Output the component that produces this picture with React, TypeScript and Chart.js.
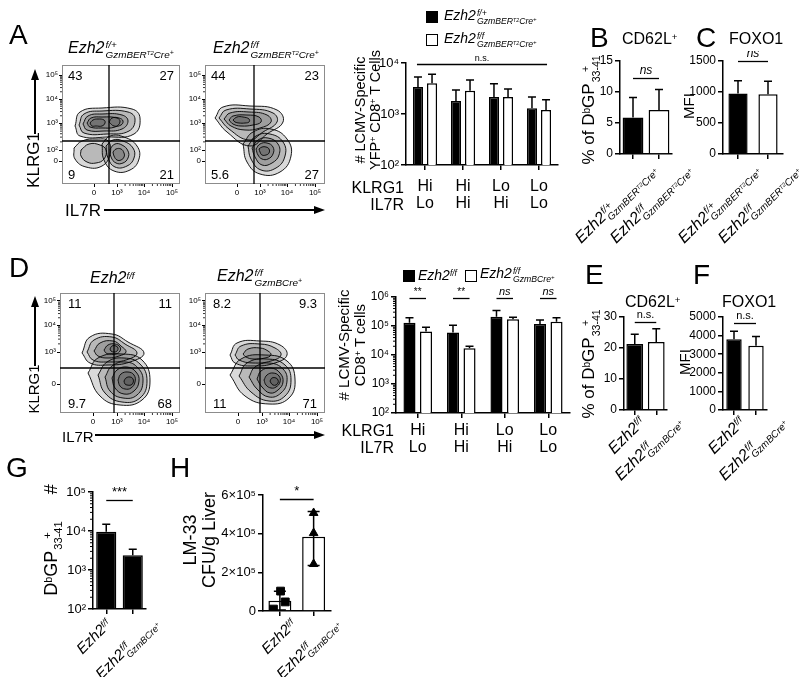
import React, { useEffect, useRef } from 'react';
import { Chart, registerables } from 'chart.js';
Chart.register(...registerables);

const FONT = '"Liberation Sans", Arial, Helvetica, sans-serif';

// ---------------- Flow plots (A, D): channel positions of axis ticks ----------------
const A_FLOW_X_TICKS = [32, 55, 82, 110];
const A_FLOW_Y_TICKS = [23, 34, 61, 85, 109];
const D_FLOW_X_TICKS = [33, 57, 84, 112];
const D_FLOW_Y_TICKS = [29, 61, 88, 112];
const FLOW_X_LABELS = ['0', '10³', '10⁴', '10⁵'];
const A_FLOW_Y_LABELS = ['0', '10²', '10³', '10⁴', '10⁵'];
const D_FLOW_Y_LABELS = ['0', '10³', '10⁴', '10⁵'];

// quadrant gates [IL7R, KLRG1] in channel units
const A1_GATE = [47, 43];
const A2_GATE = [49, 43];
const D1_GATE = [54, 45];
const D2_GATE = [55, 45];

// quadrant percentages: top-left, top-right, bottom-left, bottom-right
const A1_QUADS = ['43', '27', '9', '21'];
const A2_QUADS = ['44', '23', '5.6', '27'];
const D1_QUADS = ['11', '11', '9.7', '68'];
const D2_QUADS = ['8.2', '9.3', '11', '71'];

// contour levels (channel coordinates)
const A1_CONTOURS = [
  [[13, 58], [18, 72], [40, 76], [70, 75], [78, 66], [72, 50], [45, 47], [18, 48]],
  [[17, 59], [22, 70], [40, 73], [66, 72], [73, 65], [67, 53], [45, 50], [22, 51]],
  [[21, 60], [26, 68], [40, 70], [60, 69], [66, 63], [60, 55], [42, 53], [25, 54]],
  [[25, 61], [29, 66], [40, 67], [55, 66], [58, 62], [53, 57], [40, 56], [28, 57]],
  [[28, 61], [31, 64], [36, 65], [42, 64], [43, 61], [40, 58], [34, 58], [30, 58]],
  [[47, 62], [50, 66], [57, 66], [61, 63], [59, 59], [52, 58]],
  [[40, 40], [48, 48], [62, 47], [75, 38], [77, 25], [68, 14], [52, 13], [42, 24]],
  [[44, 38], [51, 44], [61, 43], [71, 36], [72, 26], [65, 18], [53, 17], [46, 26]],
  [[48, 35], [53, 40], [60, 39], [66, 33], [66, 26], [61, 21], [54, 21], [49, 27]],
  [[51, 32], [54, 35], [59, 35], [62, 31], [62, 27], [59, 24], [55, 24], [52, 28]],
  [[12, 36], [20, 43], [35, 45], [46, 43], [48, 30], [40, 18], [24, 17], [13, 25]],
  [[19, 34], [27, 40], [38, 39], [44, 34], [42, 25], [34, 21], [25, 22], [19, 28]],
];
const A2_CONTOURS = [
  [[10, 66], [18, 77], [45, 78], [72, 74], [78, 62], [62, 50], [45, 38], [22, 52]],
  [[14, 66], [21, 74], [45, 75], [68, 71], [72, 62], [58, 52], [44, 44], [24, 55]],
  [[19, 65], [25, 71], [44, 72], [62, 69], [66, 62], [55, 56], [40, 54], [26, 58]],
  [[24, 64], [28, 68], [42, 69], [54, 67], [56, 62], [48, 59], [36, 58], [28, 60]],
  [[28, 64], [32, 67], [38, 67], [44, 65], [44, 62], [40, 61], [34, 61], [30, 62]],
  [[38, 40], [48, 52], [66, 55], [82, 45], [86, 28], [75, 12], [55, 10], [42, 22]],
  [[43, 38], [51, 48], [65, 50], [78, 42], [80, 28], [71, 16], [56, 14], [46, 25]],
  [[47, 36], [53, 44], [63, 46], [73, 40], [74, 29], [67, 21], [57, 19], [50, 27]],
  [[51, 35], [55, 40], [62, 41], [68, 37], [68, 30], [63, 25], [57, 25], [53, 29]],
  [[54, 35], [57, 37], [61, 37], [64, 35], [64, 31], [61, 29], [57, 29], [55, 32]],
];
const D1_CONTOURS = [
  [[22, 60], [30, 76], [52, 79], [68, 71], [84, 60], [70, 51], [48, 48], [30, 50]],
  [[27, 61], [34, 73], [52, 76], [65, 69], [77, 60], [66, 53], [48, 51], [33, 53]],
  [[34, 62], [40, 70], [53, 72], [61, 67], [66, 61], [59, 57], [48, 55], [38, 57]],
  [[44, 63], [48, 68], [55, 69], [60, 66], [60, 62], [56, 59], [50, 59], [46, 60]],
  [[50, 64], [52, 67], [56, 67], [58, 65], [57, 62], [54, 61], [51, 62]],
  [[28, 40], [38, 55], [62, 59], [82, 53], [90, 32], [82, 13], [60, 8], [40, 17]],
  [[38, 38], [47, 51], [64, 55], [80, 49], [87, 32], [80, 15], [62, 11], [45, 20]],
  [[45, 36], [52, 47], [66, 51], [78, 45], [83, 32], [77, 18], [63, 15], [50, 22]],
  [[52, 35], [57, 43], [67, 46], [76, 41], [79, 32], [74, 22], [64, 19], [55, 25]],
  [[58, 33], [61, 39], [68, 41], [74, 38], [75, 31], [71, 25], [65, 24], [60, 27]],
  [[64, 32], [66, 35], [70, 36], [73, 34], [73, 30], [71, 28], [67, 28], [65, 29]],
];
const D2_CONTOURS = [
  [[25, 58], [32, 70], [55, 72], [75, 68], [82, 58], [70, 50], [48, 47], [30, 50]],
  [[30, 58], [36, 67], [55, 69], [70, 65], [76, 58], [66, 52], [48, 50], [34, 53]],
  [[38, 59], [43, 64], [55, 65], [63, 62], [66, 58], [60, 55], [48, 54], [41, 56]],
  [[25, 38], [36, 54], [60, 58], [82, 52], [90, 34], [84, 15], [64, 9], [40, 17]],
  [[34, 37], [42, 50], [62, 54], [80, 48], [86, 33], [80, 17], [64, 12], [46, 21]],
  [[44, 36], [50, 46], [64, 50], [78, 44], [82, 32], [76, 20], [64, 16], [52, 24]],
  [[52, 34], [56, 42], [66, 45], [75, 40], [78, 31], [73, 23], [65, 20], [57, 26]],
  [[59, 33], [62, 38], [68, 40], [74, 37], [75, 31], [71, 26], [66, 25], [61, 28]],
  [[65, 32], [67, 35], [71, 35], [73, 33], [73, 30], [71, 28], [68, 28], [66, 30]],
];

// ---------------- Bar panels ----------------
const KLRG1_CATS = ['Hi', 'Hi', 'Lo', 'Lo'];
const IL7R_CATS = ['Lo', 'Hi', 'Hi', 'Lo'];

const A_CTRL = [3400, 1800, 2150, 1300];
const A_CTRL_SD = [5300, 2950, 3900, 2150];
const A_KO = [4000, 2850, 2150, 1200];
const A_KO_SD = [6000, 4650, 3100, 1900];
const A_YTICKS = [100, 1000, 10000];
const A_YLABELS = ['10²', '10³', '10⁴'];

const D_CTRL = [130000, 60000, 210000, 117000];
const D_CTRL_SD = [194000, 107000, 340000, 160000];
const D_KO = [65000, 17000, 170000, 140000];
const D_KO_SD = [90000, 20000, 200000, 194000];
const D_YTICKS = [100, 1000, 10000, 100000, 1000000];
const D_YLABELS = ['10²', '10³', '10⁴', '10⁵', '10⁶'];
const D_SIG = ['**', '**', 'ns', 'ns'];

const TWO_GROUPS = ['control', 'knockout'];
const B_VALUES = [5.9, 7.1];
const B_SD = [9.1, 10.4];
const B_YTICKS = [0, 5, 10, 15];
const C_VALUES = [975, 965];
const C_SD = [1180, 1175];
const C_YTICKS = [0, 500, 1000, 1500];
const E_VALUES = [21.3, 21.9];
const E_SD = [24.4, 26.2];
const E_YTICKS = [0, 10, 20, 30];
const F_VALUES = [3800, 3450];
const F_SD = [4230, 3950];
const F_YTICKS = [0, 1000, 2000, 3000, 4000, 5000];
const G_VALUES = [9500, 2400];
const G_SD = [15000, 3400];
const G_YTICKS = [100, 1000, 10000, 100000];
const G_YLABELS = ['10²', '10³', '10⁴', '10⁵'];
const H_MEANS = [53000, 384000];
const H_SD_HI = [102000, 515000];
const H_SD_LO = [5000, 235000];
const H_CTRL_POINTS = [103000, 10000, 47000];
const H_CTRL_JITTER = [0.02, -0.19, 0.16];
const H_KO_POINTS = [507000, 403000, 243000];
const H_KO_JITTER = [0, 0, 0];
const H_YTICKS = [0, 200000, 400000, 600000];
const H_YLABELS = ['0', '2×10⁵', '4×10⁵', '6×10⁵'];

// ---------------- helpers ----------------
const zeroPad = (s: any) => { s.paddingLeft = 0; s.paddingRight = 0; s.paddingTop = 0; s.paddingBottom = 0; };
const fitW = (w: number) => (s: any) => { s.width = w; zeroPad(s); };
const fitH = (h: number) => (s: any) => { s.height = h; zeroPad(s); };

const decor = {
  id: 'decor',
  afterDatasetsDraw(chart: any, _a: any, opts: any) {
    const ctx = chart.ctx;
    const ca = chart.chartArea;
    ctx.save();
    ctx.strokeStyle = '#000';
    ctx.fillStyle = '#000';
    // error bars
    chart.data.datasets.forEach((ds: any, di: number) => {
      if (!ds.errUp) return;
      const meta = chart.getDatasetMeta(di);
      const ys = chart.scales[meta.yAxisID];
      ctx.lineWidth = 1.5;
      meta.data.forEach((el: any, i: number) => {
        const x = el.x;
        const lowV = ds.errDown ? ds.errDown[i] : ds.data[i];
        const y0 = Math.min(ys.getPixelForValue(lowV), ca.bottom);
        const y1 = ys.getPixelForValue(ds.errUp[i]);
        const c = ds.cap ?? 4;
        ctx.beginPath();
        ctx.moveTo(x, y0); ctx.lineTo(x, y1);
        ctx.moveTo(x - c, y1); ctx.lineTo(x + c, y1);
        if (ds.errDown) { ctx.moveTo(x - c, y0); ctx.lineTo(x + c, y0); }
        ctx.stroke();
      });
    });
    // minor log ticks
    if (opts.minorLog) {
      const ys = chart.scales.y;
      ctx.lineWidth = 1;
      ctx.beginPath();
      for (let k = Math.round(Math.log10(ys.min)); k < Math.round(Math.log10(ys.max)); k++) {
        for (let m = 2; m <= 9; m++) {
          const y = ys.getPixelForValue(m * Math.pow(10, k));
          ctx.moveTo(ca.left - 3, y); ctx.lineTo(ca.left, y);
        }
      }
      ctx.stroke();
    }
    // significance bars
    if (opts.sig) {
      const ys = chart.scales.y;
      opts.sig.forEach((s: any) => {
        const x1 = chart.getDatasetMeta(s.a[0]).data[s.a[1]].x - (s.ext || 0);
        const x2 = chart.getDatasetMeta(s.b[0]).data[s.b[1]].x + (s.ext || 0);
        const y = Math.round(ys.getPixelForValue(s.v)) + 0.5;
        ctx.lineWidth = 1.3;
        ctx.beginPath(); ctx.moveTo(x1, y); ctx.lineTo(x2, y); ctx.stroke();
        ctx.font = `${s.italic ? 'italic ' : ''}${s.size}px ${FONT}`;
        ctx.textAlign = 'center';
        ctx.textBaseline = 'bottom';
        ctx.fillText(s.text, (x1 + x2) / 2, y - (s.gap ?? 1));
      });
    }
    // flow box, gates, minor ticks
    if (opts.flow) {
      const f = opts.flow;
      const xs = chart.scales.x, ys = chart.scales.y;
      ctx.strokeStyle = '#8c8c8c';
      ctx.lineWidth = 1;
      ctx.strokeRect(ca.left + 0.5, ca.top + 0.5, ca.right - ca.left - 1, ca.bottom - ca.top - 1);
      ctx.strokeStyle = '#000';
      ctx.lineWidth = 1.3;
      const gx = xs.getPixelForValue(f.gate[0]);
      const gy = ys.getPixelForValue(f.gate[1]);
      ctx.beginPath();
      ctx.moveTo(gx, ca.top); ctx.lineTo(gx, ca.bottom);
      ctx.moveTo(ca.left, gy); ctx.lineTo(ca.right, gy);
      ctx.stroke();
      ctx.lineWidth = 0.8;
      ctx.beginPath();
      for (let i = 1; i + 1 < f.xt.length; i++) {
        const a = f.xt[i], b = f.xt[i + 1];
        for (let m = 2; m <= 9; m++) {
          const px = xs.getPixelForValue(a + (b - a) * Math.log10(m));
          ctx.moveTo(px, ca.bottom); ctx.lineTo(px, ca.bottom + 2);
        }
      }
      for (let i = 1; i + 1 < f.yt.length; i++) {
        const a = f.yt[i], b = f.yt[i + 1];
        for (let m = 2; m <= 9; m++) {
          const py = ys.getPixelForValue(a + (b - a) * Math.log10(m));
          ctx.moveTo(ca.left, py); ctx.lineTo(ca.left - 2, py);
        }
      }
      ctx.stroke();
    }
    ctx.restore();
  },
};

const baseOpts = (m: any, decorOpts: any) => ({
  animation: false,
  responsive: false,
  devicePixelRatio: 1,
  events: [],
  layout: { padding: { left: 0, top: m.t, right: m.r, bottom: 0 } },
  plugins: { legend: { display: false }, tooltip: { enabled: false }, decor: decorOpts },
});

function flowCfg(o: any) {
  const grid = { display: true, drawOnChartArea: false, drawTicks: true, tickLength: 3, color: '#000', lineWidth: 1 };
  return {
    type: 'scatter',
    data: {
      datasets: o.rings.map((r: number[][]) => ({
        data: [...r, r[0]].map(([x, y]) => ({ x, y })),
        showLine: true,
        tension: 0.45,
        borderColor: '#000',
        borderWidth: 0.9,
        pointRadius: 0,
        fill: 'shape',
        backgroundColor: 'rgba(0,0,0,0.15)',
      })),
    },
    plugins: [decor],
    options: {
      ...baseOpts(o.m, { flow: { gate: o.gate, xt: o.xt, yt: o.yt } }),
      scales: {
        x: {
          type: 'linear', min: 0, max: o.xmax,
          border: { display: false }, grid,
          afterBuildTicks: (s: any) => { s.ticks = o.xt.map((v: number) => ({ value: v })); },
          ticks: { autoSkip: false, maxRotation: 0, color: '#000', font: { family: FONT, size: 8 }, padding: 1, callback: (_v: any, i: number) => o.xl[i] },
          afterFit: fitH(o.m.b),
        },
        y: {
          type: 'linear', min: 0, max: o.ymax,
          border: { display: false }, grid,
          afterBuildTicks: (s: any) => { s.ticks = o.yt.map((v: number) => ({ value: v })); },
          ticks: { autoSkip: false, color: '#000', font: { family: FONT, size: 8 }, padding: 1, callback: (_v: any, i: number) => o.yl[i] },
          afterFit: fitW(o.m.l),
        },
      },
    },
  };
}

function barCfg(o: any) {
  const grid = { display: true, drawOnChartArea: false, drawTicks: true, tickLength: 5, color: '#000', lineWidth: 1.5 };
  return {
    type: 'bar',
    data: { labels: o.labels, datasets: o.datasets },
    plugins: [decor],
    options: {
      ...baseOpts(o.m, { sig: o.sig, minorLog: o.minorLog }),
      datasets: { bar: { categoryPercentage: o.catPct, barPercentage: o.barPct } },
      scales: {
        x: {
          type: 'category', offset: true,
          border: { display: true, color: '#000', width: 1.5 },
          grid: { ...grid, offset: false },
          ticks: { display: !!o.showX, color: '#000', font: { family: FONT, size: 16, lineHeight: 1.05 }, padding: o.xPad ?? 4, autoSkip: false, maxRotation: 0 },
          afterFit: fitH(o.m.b),
        },
        y: {
          type: o.yType, min: o.yMin, max: o.yMax,
          border: { display: true, color: '#000', width: 1.5 },
          grid,
          afterBuildTicks: (s: any) => { s.ticks = o.yTicks.map((v: number) => ({ value: v })); },
          ticks: { color: '#000', font: { family: FONT, size: o.yFont || 12 }, padding: 2, autoSkip: false, callback: (_v: any, i: number) => o.yLabels[i] },
          afterFit: fitW(o.m.l),
        },
        ...(o.extraScales || {}),
      },
    },
  };
}

function ChartBox({ g, m, make }: any) {
  const ref = useRef<HTMLCanvasElement>(null);
  useEffect(() => {
    const chart = new Chart(ref.current as HTMLCanvasElement, make() as any);
    return () => chart.destroy();
  }, []);
  const w = g[2] - g[0] + m.l + m.r;
  const h = g[3] - g[1] + m.t + m.b;
  return <canvas ref={ref} width={w} height={h} style={{ position: 'absolute', left: g[0] - m.l, top: g[1] - m.t, width: w, height: h }} />;
}

// ---------------- text helpers ----------------
function Sup({ children, s = 0.6, v = 0.45 }: any) {
  return <span style={{ fontSize: `${s}em`, verticalAlign: `${v}em`, lineHeight: 0 }}>{children}</span>;
}
function Stack({ sup, sub, size }: any) {
  return (
    <span style={{ display: 'inline-block', verticalAlign: `${-0.3 * size}px`, fontSize: 0.62 * size, lineHeight: 1, marginLeft: 1 }}>
      <span style={{ display: 'block' }}>{sup}</span>
      <span style={{ display: 'block' }}>{sub}</span>
    </span>
  );
}
const GzmBER = () => <>GzmBER<Sup s={0.6}>T2</Sup>Cre<Sup s={0.7}>+</Sup></>;
const GzmBCre = () => <>GzmBCre<Sup s={0.7}>+</Sup></>;
function Ezh2({ sup, sub, size }: any) {
  return (
    <span style={{ fontStyle: 'italic', fontSize: size, whiteSpace: 'nowrap' }}>
      Ezh2{sub ? <Stack sup={sup} sub={sub} size={size} /> : <Sup>{sup}</Sup>}
    </span>
  );
}
const T = ({ x, y, xr, size = 14, children, style }: any) => (
  <div style={{ position: 'absolute', ...(xr !== undefined ? { right: 800 - xr } : { left: x }), top: y, fontSize: size, lineHeight: 1, whiteSpace: 'nowrap', ...style }}>{children}</div>
);
const RC = ({ cx, cy, size = 15, children, lh = 1.05 }: any) => (
  <div style={{ position: 'absolute', left: cx, top: cy, transform: 'translate(-50%,-50%) rotate(-90deg)', fontSize: size, lineHeight: lh, whiteSpace: 'nowrap', textAlign: 'center' }}>{children}</div>
);
const XL = ({ x, y, children }: any) => (
  <div style={{ position: 'absolute', right: 800 - x, top: y, transformOrigin: '100% 0', transform: 'rotate(-45deg)', whiteSpace: 'nowrap', lineHeight: 1 }}>{children}</div>
);
const Quads = ({ box, q, inset = 6 }: any) => (
  <>
    <T x={box[0] + inset} y={box[1] + 4} size={13}>{q[0]}</T>
    <T xr={box[2] - inset} y={box[1] + 4} size={13}>{q[1]}</T>
    <T x={box[0] + inset} y={box[3] - 16} size={13}>{q[2]}</T>
    <T xr={box[2] - inset} y={box[3] - 16} size={13}>{q[3]}</T>
  </>
);
const DbGP = ({ size }: any) => <span>% of D<Sup>b</Sup>GP<Stack sup="+" sub="33-41" size={size} /></span>;

// ---------------- geometry ----------------
const G_A1 = [62, 65, 180, 184];
const G_A2 = [205, 65, 325, 184];
const G_D1 = [60, 293, 180, 413];
const G_D2 = [205, 293, 325, 413];
const FM = { l: 24, t: 6, r: 10, b: 16 };

export default function App() {
  const two = (vals: number[], sd: number[], colors: string[]) => [{
    data: vals, errUp: sd, backgroundColor: colors, borderColor: '#000', borderWidth: 1.5, cap: 4,
  }];
  const twoSig = (v: number, text: string, italic: boolean, size: number) => [{ a: [0, 0], b: [0, 1], v, text, italic, size, gap: 2 }];

  return (
    <div style={{ position: 'absolute', left: 0, top: 0, width: 800, height: 677, background: '#fff', overflow: 'hidden', fontFamily: FONT, color: '#000' }}>
      {/* flow plots */}
      <ChartBox g={G_A1} m={FM} make={() => flowCfg({ rings: A1_CONTOURS, gate: A1_GATE, xt: A_FLOW_X_TICKS, xl: FLOW_X_LABELS, yt: A_FLOW_Y_TICKS, yl: A_FLOW_Y_LABELS, xmax: 118, ymax: 119, m: FM })} />
      <ChartBox g={G_A2} m={FM} make={() => flowCfg({ rings: A2_CONTOURS, gate: A2_GATE, xt: A_FLOW_X_TICKS, xl: FLOW_X_LABELS, yt: A_FLOW_Y_TICKS, yl: A_FLOW_Y_LABELS, xmax: 120, ymax: 119, m: FM })} />
      <ChartBox g={G_D1} m={FM} make={() => flowCfg({ rings: D1_CONTOURS, gate: D1_GATE, xt: D_FLOW_X_TICKS, xl: FLOW_X_LABELS, yt: D_FLOW_Y_TICKS, yl: D_FLOW_Y_LABELS, xmax: 120, ymax: 120, m: FM })} />
      <ChartBox g={G_D2} m={FM} make={() => flowCfg({ rings: D2_CONTOURS, gate: D2_GATE, xt: D_FLOW_X_TICKS, xl: FLOW_X_LABELS, yt: D_FLOW_Y_TICKS, yl: D_FLOW_Y_LABELS, xmax: 120, ymax: 120, m: FM })} />

      {/* A bar chart */}
      <ChartBox g={[406, 63, 558, 165]} m={{ l: 40, t: 10, r: 6, b: 50 }} make={() => barCfg({
        labels: KLRG1_CATS.map((k, i) => [k, IL7R_CATS[i]]),
        datasets: [
          { data: A_CTRL, errUp: A_CTRL_SD, backgroundColor: '#000', borderColor: '#000', borderWidth: 1.5 },
          { data: A_KO, errUp: A_KO_SD, backgroundColor: '#fff', borderColor: '#000', borderWidth: 1.5 },
        ],
        yType: 'logarithmic', yMin: 100, yMax: 10000, yTicks: A_YTICKS, yLabels: A_YLABELS, yFont: 13,
        m: { l: 40, t: 10, r: 6, b: 50 }, catPct: 0.74, barPct: 0.72, showX: true, xPad: 8,
        sig: [{ a: [0, 0], b: [1, 3], v: 9500, text: 'n.s.', italic: false, size: 9, ext: 1, gap: 1 }],
      })} />

      {/* D bar chart */}
      <ChartBox g={[396, 297, 570, 413]} m={{ l: 40, t: 10, r: 6, b: 45 }} make={() => barCfg({
        labels: KLRG1_CATS.map((k, i) => [k, IL7R_CATS[i]]),
        datasets: [
          { data: D_CTRL, errUp: D_CTRL_SD, backgroundColor: '#000', borderColor: '#000', borderWidth: 1.5 },
          { data: D_KO, errUp: D_KO_SD, backgroundColor: '#fff', borderColor: '#000', borderWidth: 1.5 },
        ],
        yType: 'logarithmic', yMin: 100, yMax: 1000000, yTicks: D_YTICKS, yLabels: D_YLABELS, minorLog: true,
        m: { l: 40, t: 10, r: 6, b: 45 }, catPct: 0.76, barPct: 0.73, showX: true, xPad: 4,
        sig: D_SIG.map((s, i) => ({ a: [0, i], b: [1, i], v: 930000, text: s, italic: s === 'ns', size: s === 'ns' ? 11 : 10, ext: 0, gap: 1 })),
      })} />

      {/* B, C, E, F, G, H */}
      <ChartBox g={[620, 61, 672, 154]} m={{ l: 26, t: 10, r: 4, b: 10 }} make={() => barCfg({
        labels: TWO_GROUPS, datasets: two(B_VALUES, B_SD, ['#000', '#fff']),
        yType: 'linear', yMin: 0, yMax: 15, yTicks: B_YTICKS, yLabels: B_YTICKS.map(String),
        m: { l: 26, t: 10, r: 4, b: 10 }, catPct: 1, barPct: 0.8, sig: twoSig(12.3, 'ns', true, 12),
      })} />
      <ChartBox g={[723, 61, 783, 154]} m={{ l: 36, t: 10, r: 4, b: 10 }} make={() => barCfg({
        labels: TWO_GROUPS, datasets: two(C_VALUES, C_SD, ['#000', '#fff']),
        yType: 'linear', yMin: 0, yMax: 1500, yTicks: C_YTICKS, yLabels: C_YTICKS.map(String),
        m: { l: 36, t: 10, r: 4, b: 10 }, catPct: 1, barPct: 0.64, sig: twoSig(1500, 'ns', true, 12),
      })} />
      <ChartBox g={[624, 317, 667, 410]} m={{ l: 26, t: 10, r: 4, b: 10 }} make={() => barCfg({
        labels: TWO_GROUPS, datasets: two(E_VALUES, E_SD, ['#000', '#fff']),
        yType: 'linear', yMin: 0, yMax: 30, yTicks: E_YTICKS, yLabels: E_YTICKS.map(String),
        m: { l: 26, t: 10, r: 4, b: 10 }, catPct: 1, barPct: 0.78, sig: twoSig(28.4, 'n.s.', false, 11),
      })} />
      <ChartBox g={[723, 317, 767, 410]} m={{ l: 36, t: 10, r: 4, b: 10 }} make={() => barCfg({
        labels: TWO_GROUPS, datasets: two(F_VALUES, F_SD, ['#000', '#fff']),
        yType: 'linear', yMin: 0, yMax: 5000, yTicks: F_YTICKS, yLabels: F_YTICKS.map(String),
        m: { l: 36, t: 10, r: 4, b: 10 }, catPct: 1, barPct: 0.7, sig: twoSig(4680, 'n.s.', false, 11),
      })} />
      <ChartBox g={[93, 492, 146, 609]} m={{ l: 36, t: 12, r: 4, b: 10 }} make={() => barCfg({
        labels: TWO_GROUPS, datasets: two(G_VALUES, G_SD, ['#000', '#000']),
        yType: 'logarithmic', yMin: 100, yMax: 100000, yTicks: G_YTICKS, yLabels: G_YLABELS, yFont: 13, minorLog: true,
        m: { l: 36, t: 12, r: 4, b: 10 }, catPct: 1, barPct: 0.76, sig: twoSig(61000, '***', false, 13),
      })} />
      <ChartBox g={[263, 495, 333, 611]} m={{ l: 50, t: 12, r: 4, b: 10 }} make={() => barCfg({
        labels: TWO_GROUPS,
        datasets: [
          { type: 'bar', grouped: false, data: H_MEANS, errUp: H_SD_HI, errDown: H_SD_LO, backgroundColor: '#fff', borderColor: '#000', borderWidth: 1.5, cap: 6, order: 2 },
          { type: 'scatter', xAxisID: 'x2', order: 1, data: H_CTRL_POINTS.map((v, i) => ({ x: H_CTRL_JITTER[i], y: v })), pointStyle: 'rect', pointRadius: 5.5, backgroundColor: '#000', borderColor: '#000' },
          { type: 'scatter', xAxisID: 'x2', order: 1, data: H_KO_POINTS.map((v, i) => ({ x: 1 + H_KO_JITTER[i], y: v })), pointStyle: 'triangle', pointRadius: 5, backgroundColor: '#000', borderColor: '#000' },
        ],
        yType: 'linear', yMin: 0, yMax: 600000, yTicks: H_YTICKS, yLabels: H_YLABELS, yFont: 13,
        m: { l: 50, t: 12, r: 4, b: 10 }, catPct: 1, barPct: 0.68, sig: twoSig(580000, '*', false, 13),
        extraScales: { x2: { type: 'linear', min: -0.5, max: 1.5, display: false, bounds: 'data', offset: false } },
      })} />

      {/* arrows */}
      <svg width={800} height={677} style={{ position: 'absolute', left: 0, top: 0 }}>
        <g stroke="#000" strokeWidth={2} fill="#000">
          <line x1={35} y1={134} x2={35} y2={78} />
          <polygon points="35,69 31,80 39,80" stroke="none" />
          <line x1={104} y1={210} x2={315} y2={210} />
          <polygon points="325,210 314,206 314,214" stroke="none" />
          <line x1={35} y1={366} x2={35} y2={305} />
          <polygon points="35,296 31,307 39,307" stroke="none" />
          <line x1={95} y1={435} x2={315} y2={435} />
          <polygon points="325,435 314,431 314,439" stroke="none" />
        </g>
      </svg>

      {/* panel letters */}
      <T x={9} y={21} size={28}>A</T>
      <T x={590} y={24} size={28}>B</T>
      <T x={696} y={24} size={28}>C</T>
      <T x={9} y={254} size={28}>D</T>
      <T x={585} y={261} size={28}>E</T>
      <T x={693} y={261} size={28}>F</T>
      <T x={6} y={454} size={28}>G</T>
      <T x={170} y={454} size={28}>H</T>

      {/* flow titles */}
      <T x={68} y={40} size={16}><Ezh2 sup="f/+" sub={<GzmBER />} size={16} /></T>
      <T x={213} y={40} size={16}><Ezh2 sup="f/f" sub={<GzmBER />} size={16} /></T>
      <T x={90} y={270} size={16}><Ezh2 sup="f/f" size={16} /></T>
      <T x={217} y={268} size={16}><Ezh2 sup="f/f" sub={<GzmBCre />} size={16} /></T>

      {/* quadrant numbers */}
      <Quads box={G_A1} q={A1_QUADS} />
      <Quads box={G_A2} q={A2_QUADS} />
      <Quads box={G_D1} q={D1_QUADS} inset={8} />
      <Quads box={G_D2} q={D2_QUADS} inset={8} />

      {/* flow axis titles */}
      <RC cx={34} cy={160} size={17}>KLRG1</RC>
      <T x={65} y={202} size={17}>IL7R</T>
      <RC cx={34} cy={389} size={15}>KLRG1</RC>
      <T x={62} y={429} size={15}>IL7R</T>

      {/* legends */}
      <div style={{ position: 'absolute', left: 426, top: 11, width: 12, height: 12, background: '#000' }} />
      <T x={444} y={8} size={14}><Ezh2 sup="f/+" sub={<GzmBER />} size={14} /></T>
      <div style={{ position: 'absolute', left: 426, top: 34, width: 12, height: 12, border: '1.5px solid #000', boxSizing: 'border-box' }} />
      <T x={444} y={31} size={14}><Ezh2 sup="f/f" sub={<GzmBER />} size={14} /></T>
      <div style={{ position: 'absolute', left: 403, top: 270, width: 12, height: 12, background: '#000' }} />
      <T x={418} y={268} size={14}><Ezh2 sup="f/f" size={14} /></T>
      <div style={{ position: 'absolute', left: 465, top: 270, width: 12, height: 12, border: '1.5px solid #000', boxSizing: 'border-box' }} />
      <T x={480} y={266} size={14}><Ezh2 sup="f/f" sub={<GzmBCre />} size={14} /></T>

      {/* bar category row headers */}
      <T xr={404} y={180} size={16}>KLRG1</T>
      <T xr={404} y={197} size={16}>IL7R</T>
      <T xr={394} y={423} size={16}>KLRG1</T>
      <T xr={394} y={440} size={16}>IL7R</T>

      {/* y axis titles */}
      <RC cx={368} cy={110} size={14.5}><div># LCMV-Specific</div><div>YFP<Sup>+</Sup> CD8<Sup>+</Sup> T Cells</div></RC>
      <RC cx={352} cy={345} size={15}><div># LCMV-Specific</div><div>CD8<Sup>+</Sup> T cells</div></RC>
      <RC cx={591} cy={110} size={17}><DbGP size={17} /></RC>
      <RC cx={591} cy={364} size={17}><DbGP size={17} /></RC>
      <RC cx={689} cy={106} size={15}>MFI</RC>
      <RC cx={685} cy={362} size={15}>MFI</RC>
      <RC cx={53} cy={540} size={18}><span>D<Sup>b</Sup>GP<Stack sup="+" sub="33-41" size={18} />{'\u2003\u2002#'}</span></RC>
      <RC cx={200} cy={540} size={18}><div>LM-33</div><div>CFU/g Liver</div></RC>

      {/* panel titles */}
      <T x={622} y={31} size={16}>CD62L<Sup>+</Sup></T>
      <T x={729} y={31} size={16}>FOXO1</T>
      <T x={625} y={294} size={16}>CD62L<Sup>+</Sup></T>
      <T x={722} y={294} size={16}>FOXO1</T>

      {/* rotated x labels */}
      <XL x={647} y={160}><Ezh2 sup="f/+" sub={<GzmBER />} size={16} /></XL>
      <XL x={682} y={160}><Ezh2 sup="f/f" sub={<GzmBER />} size={16} /></XL>
      <XL x={750} y={160}><Ezh2 sup="f/+" sub={<GzmBER />} size={16} /></XL>
      <XL x={790} y={160}><Ezh2 sup="f/f" sub={<GzmBER />} size={16} /></XL>
      <XL x={636} y={414}><Ezh2 sup="f/f" size={16} /></XL>
      <XL x={672} y={412}><Ezh2 sup="f/f" sub={<GzmBCre />} size={16} /></XL>
      <XL x={736} y={414}><Ezh2 sup="f/f" size={16} /></XL>
      <XL x={776} y={412}><Ezh2 sup="f/f" sub={<GzmBCre />} size={16} /></XL>
      <XL x={103} y={616}><Ezh2 sup="f/f" size={15} /></XL>
      <XL x={149} y={614}><Ezh2 sup="f/f" sub={<GzmBCre />} size={15} /></XL>
      <XL x={288} y={616}><Ezh2 sup="f/f" size={15} /></XL>
      <XL x={330} y={614}><Ezh2 sup="f/f" sub={<GzmBCre />} size={15} /></XL>
    </div>
  );
}
